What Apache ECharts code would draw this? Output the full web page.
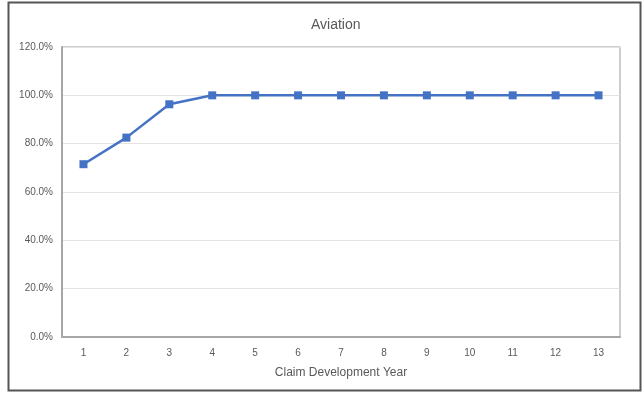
<!DOCTYPE html>
<html>
<head>
<meta charset="utf-8">
<style>
	body { margin: 0; background: #fff; }
	#chart { width: 643px; height: 394px; }
</style>
</head>
<body>
<div id="chart"></div>
<script src="https://cdn.jsdelivr.net/npm/echarts@6/dist/echarts.min.js"></script>
<script>
	var years = ['1', '2', '3', '4', '5', '6', '7', '8', '9', '10', '11', '12', '13'];
	var cumulative = [71.5, 82.5, 96.3, 100, 100, 100, 100, 100, 100, 100, 100, 100, 100];
	var yTicks = [0, 20, 40, 60, 80, 100, 120];

	var myChart = echarts.init(document.getElementById('chart'));

	var option = {
		animation: false,
		textStyle: { fontFamily: 'Liberation Sans, Arial, sans-serif' },
		title: {
			text: 'Aviation',
			left: 306,
			top: 13,
			textStyle: { fontSize: 14, fontWeight: 'normal', color: '#595959' }
		},
		graphic: [{
			type: 'rect',
			shape: { x: 8.5, y: 2.5, width: 632, height: 388 },
			style: { fill: 'none', stroke: '#555', lineWidth: 2 },
			silent: true
		}],
		grid: {
			left: 62, top: 47, right: 23, bottom: 57,
			show: true,
			borderColor: '#9a9a9a',
			borderWidth: 1
		},
		xAxis: {
			type: 'category',
			data: years,
			boundaryGap: true,
			name: 'Claim Development Year',
			nameLocation: 'middle',
			nameGap: 30,
			nameTextStyle: { fontSize: 12, color: '#595959' },
			axisLine: { lineStyle: { color: '#a6a6a6', width: 2 } },
			axisTick: { show: false },
			axisLabel: { fontSize: 10, color: '#595959', margin: 11 }
		},
		yAxis: {
			type: 'value',
			min: yTicks[0],
			max: yTicks[yTicks.length - 1],
			interval: 20,
			axisLine: { show: true, lineStyle: { color: '#a6a6a6', width: 2 } },
			axisTick: { show: false },
			axisLabel: {
				fontSize: 10, color: '#595959', margin: 9,
				formatter: function (v) { return v.toFixed(1) + '%'; }
			},
			splitLine: { lineStyle: { color: '#e3e3e3' } }
		},
		series: [{
			type: 'line',
			data: cumulative,
			symbol: 'rect',
			symbolSize: 8,
			lineStyle: { color: '#4472c4', width: 2.5 },
			itemStyle: { color: '#4472c4' }
		}]
	};
	myChart.setOption(option);
</script>
</body>
</html>
